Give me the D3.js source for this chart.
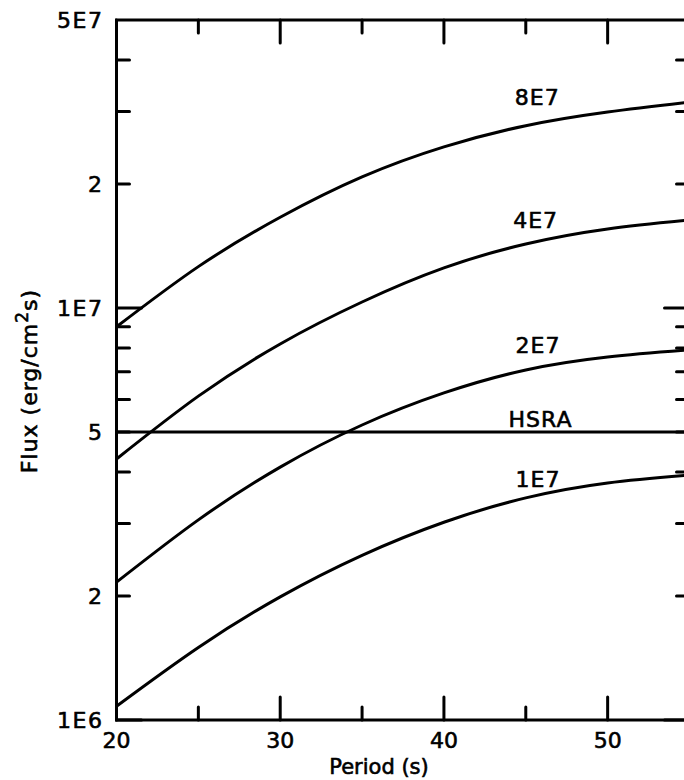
<!DOCTYPE html>
<html>
<head>
<meta charset="utf-8">
<script src="https://cdn.jsdelivr.net/npm/d3@7"></script>
<style>
  html, body { margin: 0; padding: 0; background: #fff; }
  svg { display: block; }
  text { font-family: "DejaVu Sans", sans-serif; fill: #000; stroke: #000; stroke-width: 0.6px; }
</style>
</head>
<body>
<script>
// ---- data ----
const periods = [20, 25, 30, 35, 40, 45, 50, 55];
const flux1E7 = [1.08e6, 1.50e6, 1.99e6, 2.51e6, 3.02e6, 3.46e6, 3.76e6, 3.93e6];
const flux2E7 = [2.16e6, 3.06e6, 4.11e6, 5.20e6, 6.22e6, 7.07e6, 7.60e6, 7.91e6];
const flux4E7 = [4.30e6, 6.11e6, 8.18e6, 1.034e7, 1.251e7, 1.43e7, 1.555e7, 1.635e7];
const flux8E7 = [9.0e6, 1.26e7, 1.66e7, 2.08e7, 2.46e7, 2.77e7, 2.99e7, 3.16e7];
const fluxHSRA = [5e6, 5e6, 5e6, 5e6, 5e6, 5e6, 5e6, 5e6];
const seriesNames = ["8E7", "4E7", "2E7", "HSRA", "1E7"];
const labelPeriod = [45.7, 45.6, 45.75, 45.9, 45.75];
const labelFlux = [3.11e7, 1.56e7, 7.78e6, 5.14e6, 3.68e6];
const xMajorTicks = [20, 30, 40, 50];
const xMinorTicks = [25, 35, 45];
const yLabelledTicks = [1e6, 2e6, 5e6, 1e7, 2e7, 5e7];
const yTickLabels = ["1E6", "2", "5", "1E7", "2", "5E7"];
const yDecadeTicks = [1e6, 1e7];
const yMinorTicks = [2e6, 3e6, 4e6, 5e6, 6e6, 7e6, 8e6, 9e6, 2e7, 3e7, 4e7];

const W = 684, H = 780;
const pLeft = 116.5, pRight = 689.5, pTop = 20, pBottom = 720;

const svg = d3.select("body").append("svg").attr("width", W).attr("height", H);

const x = d3.scaleLinear().domain([20, 55]).range([pLeft, pRight]);
const y = d3.scaleLog().domain([1e6, 5e7]).range([pBottom, pTop]);

const seriesData = [flux8E7, flux4E7, flux2E7, fluxHSRA, flux1E7];

// curves
const line = d3.line()
  .x((d, i) => x(periods[i]))
  .y(d => y(d))
  .curve(d3.curveNatural);

svg.append("g").selectAll("path").data(seriesData).join("path")
  .attr("d", d => line(d))
  .attr("fill", "none")
  .attr("stroke", "#000")
  .attr("stroke-width", 3)
  .attr("stroke-linejoin", "round");

// frame
svg.append("rect")
  .attr("x", pLeft).attr("y", pTop)
  .attr("width", pRight - pLeft).attr("height", pBottom - pTop)
  .attr("fill", "none").attr("stroke", "#000").attr("stroke-width", 3);

const tickStyle = sel => sel.attr("stroke", "#000").attr("stroke-width", 3).attr("stroke-linecap", "round");

// y ticks (left and right, inward)
const yTicksAll = yMinorTicks.map(v => ({ v, len: 13 })).concat(yDecadeTicks.map(v => ({ v, len: 25 })));
const gy = svg.append("g");
yTicksAll.forEach(t => {
  gy.append("line").attr("x1", pLeft).attr("x2", pLeft + t.len).attr("y1", y(t.v)).attr("y2", y(t.v)).call(tickStyle);
  gy.append("line").attr("x1", pRight).attr("x2", pRight - t.len).attr("y1", y(t.v)).attr("y2", y(t.v)).call(tickStyle);
});

// x ticks (bottom and top, inward)
const xTicksAll = xMajorTicks.map(v => ({ v, len: 23 })).concat(xMinorTicks.map(v => ({ v, len: 13 })));
const gx = svg.append("g");
xTicksAll.forEach(t => {
  gx.append("line").attr("x1", x(t.v)).attr("x2", x(t.v)).attr("y1", pBottom).attr("y2", pBottom - t.len).call(tickStyle);
  gx.append("line").attr("x1", x(t.v)).attr("x2", x(t.v)).attr("y1", pTop).attr("y2", pTop + t.len).call(tickStyle);
});

// y tick labels
svg.append("g").selectAll("text").data(yLabelledTicks).join("text")
  .attr("x", pLeft - 13)
  .attr("y", d => y(d))
  .attr("dy", "0.36em")
  .attr("text-anchor", "end")
  .attr("font-size", 22)
  .attr("letter-spacing", 1.5)
  .text((d, i) => yTickLabels[i]);

// x tick labels
svg.append("g").selectAll("text").data(xMajorTicks).join("text")
  .attr("x", d => x(d))
  .attr("y", pBottom + 28)
  .attr("text-anchor", "middle")
  .attr("font-size", 22)
  .text(d => d);

// series labels
svg.append("g").selectAll("text").data(seriesNames).join("text")
  .attr("x", (d, i) => x(labelPeriod[i]))
  .attr("y", (d, i) => y(labelFlux[i]))
  .attr("text-anchor", "middle")
  .attr("font-size", 22)
  .attr("letter-spacing", 1)
  .text(d => d);

// axis titles
svg.append("text")
  .attr("x", 379).attr("y", 774)
  .attr("text-anchor", "middle")
  .attr("font-size", 21)
  .text("Period (s)");

const yt = svg.append("text")
  .attr("transform", "translate(37,381) rotate(-90)")
  .attr("text-anchor", "middle")
  .attr("font-size", 22)
  .attr("letter-spacing", 1);
yt.append("tspan").text("Flux (erg/cm");
yt.append("tspan").attr("dy", -9).attr("font-size", 17).text("2");
yt.append("tspan").attr("dy", 9).text("s)");
</script>
</body>
</html>
